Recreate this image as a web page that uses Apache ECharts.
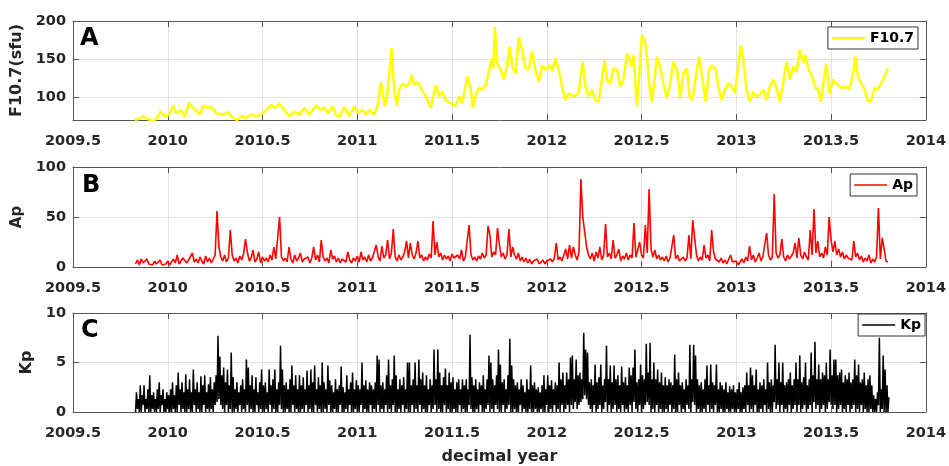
<!DOCTYPE html>
<html><head><meta charset="utf-8">
<script src="https://cdn.jsdelivr.net/npm/echarts@6/dist/echarts.min.js"></script>
<style>html,body{margin:0;padding:0;background:#fff}#c{width:949px;height:466px}</style>
</head><body><div id="c"></div>
<script>
// ---------- data ----------
const xTickLabels = [2009.5, 2010, 2010.5, 2011, 2011.5, 2012, 2012.5, 2013, 2013.5, 2014];
const f107Ticks = [100, 150, 200];
const apTicks = [0, 50, 100];
const kpTicks = [0, 5, 10];

// F10.7 (sfu): [decimal year, value]
const f107Points = [
[2009.826,70],[2009.853,72],[2009.870,75],[2009.896,71],[2009.923,69],[2009.944,72],[2009.961,81],[2009.984,75],[2010.002,76],[2010.014,80],
[2010.028,89],[2010.046,79],[2010.072,83],[2010.089,74],[2010.112,92],[2010.133,86],[2010.151,82],[2010.168,77],[2010.189,89],[2010.212,86],
[2010.230,87],[2010.256,79],[2010.291,77],[2010.318,80],[2010.344,73],[2010.365,70],[2010.388,75],[2010.414,73],[2010.440,77],[2010.467,75],
[2010.493,77],[2010.519,83],[2010.546,90],[2010.563,86],[2010.589,91],[2010.616,83],[2010.642,75],[2010.668,81],[2010.695,77],[2010.721,86],
[2010.747,77],[2010.782,89],[2010.809,83],[2010.826,87],[2010.844,79],[2010.870,88],[2010.888,77],[2010.905,74],[2010.932,87],[2010.958,75],
[2010.984,88],[2011.002,80],[2011.028,83],[2011.046,77],[2011.063,83],[2011.089,77],[2011.107,88],[2011.125,120],[2011.133,105],[2011.147,88],
[2011.160,107],[2011.181,164],[2011.195,110],[2011.209,89],[2011.221,110],[2011.239,118],[2011.256,114],[2011.274,118],[2011.288,129],[2011.300,116],
[2011.318,120],[2011.335,112],[2011.361,101],[2011.388,86],[2011.414,116],[2011.432,101],[2011.449,107],[2011.467,96],[2011.493,92],[2011.519,88],
[2011.537,101],[2011.554,92],[2011.581,127],[2011.598,112],[2011.611,86],[2011.625,103],[2011.642,112],[2011.660,110],[2011.677,116],[2011.695,133],
[2011.709,151],[2011.718,138],[2011.726,192],[2011.739,144],[2011.756,136],[2011.774,123],[2011.791,142],[2011.804,166],[2011.818,140],[2011.835,131],
[2011.853,179],[2011.870,162],[2011.888,138],[2011.905,136],[2011.923,160],[2011.940,136],[2011.958,120],[2011.975,142],[2011.993,136],[2012.011,142],
[2012.028,134],[2012.046,151],[2012.063,136],[2012.081,114],[2012.098,96],[2012.116,105],[2012.133,102],[2012.151,102],[2012.168,105],[2012.189,147],
[2012.204,114],[2012.221,101],[2012.239,110],[2012.256,96],[2012.274,94],[2012.291,123],[2012.305,149],[2012.317,123],[2012.335,118],[2012.353,138],
[2012.370,136],[2012.388,114],[2012.405,123],[2012.423,157],[2012.432,153],[2012.449,140],[2012.458,155],[2012.475,88],[2012.488,131],[2012.502,181],
[2012.516,175],[2012.528,155],[2012.540,118],[2012.554,94],[2012.568,122],[2012.581,153],[2012.598,140],[2012.616,118],[2012.633,99],[2012.651,118],
[2012.668,147],[2012.686,136],[2012.704,99],[2012.721,131],[2012.739,138],[2012.753,101],[2012.768,96],[2012.786,127],[2012.804,153],[2012.821,123],
[2012.839,94],[2012.856,136],[2012.874,142],[2012.891,136],[2012.905,114],[2012.923,96],[2012.940,110],[2012.958,118],[2012.975,114],[2012.993,105],
[2013.011,142],[2013.023,168],[2013.037,149],[2013.054,110],[2013.072,94],[2013.089,107],[2013.107,101],[2013.125,103],[2013.142,110],[2013.160,96],
[2013.177,114],[2013.195,123],[2013.212,112],[2013.230,94],[2013.247,118],[2013.265,147],[2013.282,123],[2013.300,140],[2013.318,133],[2013.335,162],
[2013.353,145],[2013.365,155],[2013.382,136],[2013.400,127],[2013.418,112],[2013.432,110],[2013.446,94],[2013.463,123],[2013.475,144],[2013.493,105],
[2013.511,123],[2013.528,118],[2013.546,114],[2013.563,112],[2013.581,114],[2013.598,110],[2013.616,131],[2013.628,153],[2013.642,127],[2013.660,118],
[2013.677,110],[2013.695,94],[2013.712,96],[2013.730,112],[2013.747,110],[2013.765,118],[2013.782,127],[2013.800,138]
];

// Ap and Kp sampled every 0.01 year starting at 2009.83
const sampleStart = 2009.83;
const sampleStep = 0.01;
const apValues = [
3,7,2,8,4,6,8,3,5,2, 6,3,5,7,2,4,3,6,2,5, 8,4,12,3,6,9,10,4,7,5, 14,5,8,4,10,6,3,11,5,9,
4,8,12,56,20,10,6,12,5,9, 37,12,6,9,4,11,7,13,28,15, 6,9,17,5,8,15,4,10,6,9, 5,12,7,20,8,6,50,10,6,9,
5,20,8,4,12,6,9,14,5,8, 6,10,4,9,20,7,12,5,27,10, 6,9,4,17,8,11,5,9,4,8, 10,5,15,7,4,9,6,11,5,15,
7,10,5,12,6,9,8,22,10,6, 21,9,12,27,8,14,38,10,6,12, 7,10,15,26,9,24,12,8,14,26, 9,12,6,10,7,13,9,46,12,25,
10,14,7,12,8,11,6,13,9,7, 12,8,17,6,10,9,42,12,7,10, 6,11,8,14,9,12,41,32,10,15, 12,39,22,10,14,8,12,38,10,20,
12,8,14,6,10,5,9,4,8,3, 6,4,8,3,5,7,3,6,4,8, 5,9,24,7,10,6,12,18,8,22, 9,20,12,7,15,88,50,35,20,12,
8,14,6,15,9,20,7,12,43,10, 14,8,27,9,12,18,6,11,8,14, 7,12,9,44,10,8,25,12,9,42, 14,78,18,10,17,8,12,7,10,6,
11,5,9,7,32,8,12,6,4,10, 6,9,32,8,47,48,12,6,10,7, 22,9,12,6,37,15,8,10,5,9, 4,7,3,8,12,5,3,6,2,5,
8,4,10,6,21,7,12,5,9,14, 6,10,8,34,12,7,10,73,14,9, 12,28,10,6,12,8,10,14,24,9, 29,12,8,15,10,7,37,12,58,14,
26,10,14,9,20,12,50,27,15,26, 12,18,10,15,8,12,9,11,7,26, 10,14,7,11,5,9,6,12,4,8, 5,10,59,8,29,18,6,5
];
const kpHigh = [
2,1.3,2.7,1.7,2.7,1.3,2.3,3.7,1.7,2, 1.3,2.3,3,1.7,2.3,1.3,2,1.7,2.3,3, 1.7,2.7,4,2.3,3,2,3.8,2.3,3.3,2, 4.3,2.3,3,2,3.6,2.7,3.7,2,2.8,3.5,
2.3,3,3.7,7.7,5.6,3.7,4.5,3,4.3,2.7, 6,3.5,2.3,3,2,2.7,3.3,2.3,5.3,4.5, 2.7,3.7,2.3,3.5,2,3,4.3,2.7,3,2, 4.3,2.7,3.3,4.3,2.3,3,6.7,4.3,2.7,3,
2.3,3.3,4.7,2.7,3.7,2.3,3.7,2.7,3.5,2.3, 4.2,2.7,4.3,3,4.7,2.3,3.5,2.7,5,3, 2.3,4.7,3.2,2.7,2,3.3,2.3,2.7,4.6,2.5, 2,3.7,2.3,3,4,2.3,3.2,2.7,2.3,5,
2.7,3.2,2.3,3,2.7,2.3,3,5.7,5.3,2.7, 3,2.3,3.7,5.3,2.7,3.3,5.7,3.7,2.3,3.3, 2.7,3.5,2.3,5,5,2.7,3.3,5,2.7,5.3, 3.3,4,2.7,3.7,2.3,3.3,2.7,6.3,3.3,6.3,
4,2.7,3.5,4.4,2.7,4,3,3.5,2.3,3, 3.3,2.3,3.3,2.7,3.3,2.3,7.8,3.5,2.7,3.3, 2.3,3,2.7,3.7,2.3,3.3,5.7,5,3.3,2.7, 3.7,6.3,4.8,3,3.3,2.3,3.7,7.4,4.7,3.3,
2.7,3,2.3,3.3,2.7,2,3.3,2.3,4.7,2.7, 3,2.3,2.5,2,2.7,3.7,2.3,3.7,2.7,3.2, 2.3,3,2.7,5,3.3,4,2.7,4,3.3,5.5, 5.7,3.3,5.3,3.7,4,3.3,8,6.3,6,3,
3.3,2.7,4.8,3,3.5,4.8,2.7,3.3,6.7,3.3, 4.7,3,4.7,3.3,3.7,2.7,4.6,3,3.5,2.7, 4.5,3.7,4.5,6.3,3,3.3,4.8,3.7,3.3,6.9, 4,7,3.3,5,3.3,4.3,3,4,2.7,3.5,
2.7,3.3,3,2.7,5.8,3.3,4,2.7,3,2.3, 3.3,2.7,6.8,3.3,6.8,5.7,3.3,2.7,3,2.3, 3.3,4.7,2.7,4.8,3,2.7,4.8,2.3,3,2.7, 2.3,3,2,2.6,2.3,2.7,2,2.3,3,2,
2.5,2.7,4,2.7,4.5,3.7,2.7,4.3,2.3,3, 2.7,3.3,2.3,5,3,3.3,2.7,6.8,3.3,5, 3,5,2.7,3,3.3,4,2.7,3.3,5,3.3, 5.7,3,3.5,5,2.7,3.3,6,3.7,7.1,3.3,
4.8,3.3,4,3.7,5,3.3,6.3,3.7,5.3,5.3, 3.7,4,4.3,3,3.7,3.3,4,3,3.3,5.3, 3.7,4.8,3,3.3,4,2.7,3.3,3.7,2.7,1.7, 1.3,2,7.5,2.3,5.7,4.3,2.7,1.5
];
const kpLow = [
0,0.3,0,0,0.7,0,0.3,0,0,0.3, 0,0,0.3,0,0.7,0,0,0.3,0,0, 0.3,0,0,0.7,0,0.3,0,0,0.3,0, 0,0.7,0,0.3,0,0,0.7,0,0.3,0,
0.3,0,0.7,1,1.3,0.7,0.3,0,0.7,0, 0.3,0,0,0.3,0,0.7,0,0.3,0,0.7, 0,0.3,0,0,0.7,0,0.3,0,0,0.3, 0,0.7,0,0.3,0,0,0.7,0.3,0,0,
0.3,0,0,0.7,0,0.3,0,0,0.3,0, 0.7,0,0.3,0,0,0.7,0,0.3,0,0, 0.3,0,0.7,0,0,0.3,0,0,0.7,0, 0,0.3,0,0.7,0,0,0.3,0,0,0.7,
0,0.3,0,0,0.7,0,0.3,0,0.7,0, 0.3,0,0.7,0,0.3,0,0.7,0,0,0.3, 0,0.7,0,0.3,0,0,0.7,0,0.3,0, 0.7,0,0.3,0,0,0.7,0,0.3,0.7,0,
0.3,0,0,0.7,0,0.3,0,0,0.3,0, 0,0.7,0,0.3,0,0,0.7,0.3,0,0, 0.3,0,0.7,0,0,0.3,0.7,0,0.3,0, 0.7,0.3,0,0,0.7,0,0.3,0.7,0,0,
0.3,0,0,0.7,0,0.3,0,0,0.3,0, 0,0.3,0,0,0.3,0,0,0.7,0,0.3, 0,0.7,0,0.3,0,0.7,0,0.3,0.7,0, 0.7,0.3,1,0.3,0.7,1,1.3,1.7,1.3,0.7,
0.3,0,0.7,0,0.3,0.7,0,0.3,1,0, 0.7,0,0.3,0.7,0,0.3,0,0.7,0,0.3, 0,0.7,0,1,0.3,0,0.7,0,0.3,0.7, 1,0.7,0,0.3,0,0.7,0,0.3,0,0,
0.3,0,0.7,0,0.3,0,0,0.7,0,0.3, 0,0.7,0.3,0,1,0.7,0,0.3,0,0, 0.3,0,0.7,0,0.3,0,0.7,0,0,0.3, 0,0,0.3,0,0,0.3,0,0,0.3,0,
0,0.3,0,0.7,0,0.3,0,0.7,0,0, 0.3,0,0.7,0,0.3,0,0,1,0.3,0.7, 0,0.7,0,0.3,0,0.7,0,0.3,0.7,0, 0.7,0,0.3,0.7,0,0.3,0.7,0,1,0.3,
0.7,0,0.3,0.7,0,0.3,1,0.7,0.3,0.7, 0,0.3,0.7,0,0.3,0,0.7,0,0.3,0.7, 0,0.3,0,0.7,0,0.3,0,0,0.3,0, 0,0,0.7,0,0.3,0,0,0
];

// ---------- build series data ----------
const yr = i => +(sampleStart + i * sampleStep).toFixed(4);
const apData = apValues.map((v, i) => [yr(i), v]);
const kpData = [];
const nKp = Math.min(kpHigh.length, kpLow.length);
for (let i = 0; i < nKp; i++) {
  kpData.push([yr(i), kpLow[i]]);
  kpData.push([+(yr(i) + sampleStep / 2).toFixed(4), kpHigh[i]]);
}

// ---------- styling ----------
const FONT = 'DejaVu Sans';
const AXC = '#555555';
const TXT = '#262626';
const GRIDC = '#e2e2e2';
const grids = [
  {left: 73, right: 22, top: 21, height: 99},
  {left: 73, right: 22, top: 167, height: 100},
  {left: 73, right: 22, top: 313, height: 100}
];
const tickLbl = {fontFamily: FONT, fontWeight: 'bold', fontSize: 14.5, color: TXT};

function xAxes(g, withName) {
  const bottom = {
    type: 'value', gridIndex: g, position: 'bottom', min: 2009.5, max: 2014, interval: 0.5,
    axisLine: {show: true, onZero: false, lineStyle: {color: AXC, width: 1}},
    axisTick: {show: true, inside: true, length: 6, lineStyle: {color: AXC}},
    axisLabel: Object.assign({margin: 14, formatter: v => String(Math.round(v * 10) / 10)}, tickLbl),
    splitLine: {show: true, lineStyle: {color: GRIDC, width: 1}}
  };
  if (withName) {
    bottom.name = 'decimal year';
    bottom.nameLocation = 'middle';
    bottom.nameGap = 37;
    bottom.nameTextStyle = {fontFamily: FONT, fontWeight: 'bold', fontSize: 16, color: TXT};
  }
  const top = {
    type: 'value', gridIndex: g, position: 'top', min: 2009.5, max: 2014, interval: 0.5,
    axisLine: {show: true, onZero: false, lineStyle: {color: AXC, width: 1}},
    axisTick: {show: true, inside: true, length: 6, lineStyle: {color: AXC}},
    axisLabel: {show: false}, splitLine: {show: false}
  };
  return [bottom, top];
}
function yAxes(g, min, max, ticks, name, nameGap, nameSize) {
  const left = {
    type: 'value', gridIndex: g, position: 'left', min: min, max: max,
    axisLine: {show: true, onZero: false, lineStyle: {color: AXC, width: 1}},
    axisTick: {show: true, inside: true, length: 6, lineStyle: {color: AXC}, customValues: ticks},
    axisLabel: Object.assign({margin: 7, customValues: ticks}, tickLbl),
    splitLine: {show: true, lineStyle: {color: GRIDC, width: 1}},
    name: name, nameLocation: 'middle', nameRotate: 90, nameGap: nameGap,
    nameTextStyle: {fontFamily: FONT, fontWeight: 'bold', fontSize: nameSize, color: TXT}
  };
  const right = {
    type: 'value', gridIndex: g, position: 'right', min: min, max: max,
    axisLine: {show: true, onZero: false, lineStyle: {color: AXC, width: 1}},
    axisTick: {show: true, inside: true, length: 6, lineStyle: {color: AXC}, customValues: ticks},
    axisLabel: {show: false, customValues: ticks}, splitLine: {show: false}
  };
  return [left, right];
}
function legendFor(name, right, top, h) {
  return {
    data: [name], right: right, top: top, orient: 'horizontal',
    backgroundColor: '#ffffff', borderColor: '#333333', borderWidth: 1, borderRadius: 0,
    padding: [4, 4, 4, 4], itemWidth: 33, itemHeight: h, icon: 'rect',
    selectedMode: false,
    textStyle: {fontFamily: FONT, fontWeight: 'bold', fontSize: 14, color: '#000'}
  };
}

const option = {
  animation: false,
  backgroundColor: '#ffffff',
  grid: grids,
  xAxis: [].concat(xAxes(0, false), xAxes(1, false), xAxes(2, true)),
  yAxis: [].concat(
    yAxes(0, 70, 200, f107Ticks, 'F10.7(sfu)', 41, 16),
    yAxes(1, 0, 100, apTicks, 'Ap', 45, 15),
    yAxes(2, 0, 10, kpTicks, 'Kp', 38, 16)
  ),
  legend: [
    legendFor('F10.7', 31, 27, 2),
    legendFor('Ap', 32, 174, 1.5),
    legendFor('Kp', 24, 314, 1.5)
  ],
  series: [
    {name: 'F10.7', type: 'line', xAxisIndex: 0, yAxisIndex: 0, data: f107Points,
     showSymbol: false, symbol: 'none', color: '#ffff00',
     lineStyle: {color: '#ffff00', width: 2.5}, z: 3},
    {name: 'Ap', type: 'line', xAxisIndex: 2, yAxisIndex: 2, data: apData,
     showSymbol: false, symbol: 'none', color: '#ff0000',
     lineStyle: {color: '#ff0000', width: 1.6}, z: 3},
    {name: 'Kp', type: 'line', xAxisIndex: 4, yAxisIndex: 4, data: kpData,
     showSymbol: false, symbol: 'none', color: '#000000',
     lineStyle: {color: '#000000', width: 1.5}, z: 3}
  ],
  graphic: [
    {type: 'text', left: 80, top: 27, z: 10, style: {text: 'A', fill: '#000', font: 'bold 24px "DejaVu Sans"'}},
    {type: 'text', left: 82, top: 174, z: 10, style: {text: 'B', fill: '#000', font: 'bold 24px "DejaVu Sans"'}},
    {type: 'text', left: 81, top: 319, z: 10, style: {text: 'C', fill: '#000', font: 'bold 24px "DejaVu Sans"'}}
  ]
};
const chart = echarts.init(document.getElementById('c'), null, {renderer: 'canvas'});
chart.setOption(option);
</script>
</body></html>
